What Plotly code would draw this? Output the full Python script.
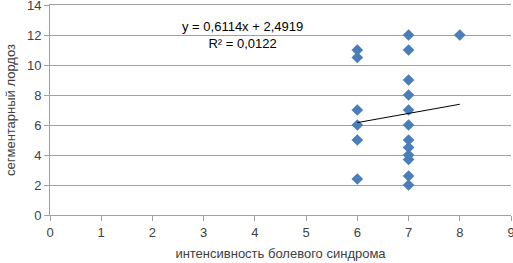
import plotly.graph_objects as go

x_vals = [6, 6, 6, 6, 6, 6, 7, 7, 7, 7, 7, 7, 7, 7, 7, 7, 7, 7, 8]
y_vals = [11, 10.5, 7, 6, 5, 2.4, 12, 11, 9, 8, 7, 6, 5, 4.5, 4, 3.7, 2.6, 2, 12]

slope = 0.6114
intercept = 2.4919
r2 = 0.0122
trend_x = [min(x_vals), max(x_vals)]
trend_y = [slope * v + intercept for v in trend_x]

x_ticks = list(range(0, 10))
y_ticks = list(range(0, 15, 2))

font = "Liberation Sans, Arial, sans-serif"

fig = go.Figure()
fig.add_trace(go.Scatter(x=x_vals, y=y_vals, mode="markers", cliponaxis=False,
                         marker=dict(symbol="diamond", size=9, color="#4a7ebb",
                                     line=dict(width=0))))
fig.add_trace(go.Scatter(x=trend_x, y=trend_y, mode="lines",
                         line=dict(color="#000000", width=1)))

fig.add_annotation(x=3.75, y=12.0, xref="x", yref="y",
                   text="y = 0,6114x + 2,4919<br>R² = 0,0122",
                   showarrow=False, font=dict(family=font, size=13, color="#000000"),
                   align="center")

fig.update_layout(
    width=513, height=263,
    margin=dict(l=50, r=2, t=5, b=48),
    paper_bgcolor="white", plot_bgcolor="white",
    showlegend=False,
    font=dict(family=font, size=13, color="#404040"),
    xaxis=dict(range=[0, 9], tickvals=x_ticks, showgrid=False, zeroline=False,
               automargin=False, mirror=True, ticklabeloverflow="allow",
               showline=True, linecolor="#a0a0a0", ticks="outside", ticklen=5,
               tickcolor="#a0a0a0",
               title=dict(text="интенсивность болевого синдрома", standoff=10,
                          font=dict(size=13, color="#404040"))),
    yaxis=dict(range=[0, 14], tickvals=y_ticks, showgrid=True, gridcolor="#a0a0a0",
               automargin=False, ticklabeloverflow="allow",
               zeroline=False, showline=True, linecolor="#a0a0a0", ticks="outside",
               ticklen=5, tickcolor="#a0a0a0",
               title=dict(text="сегментарный лордоз", standoff=8,
                          font=dict(size=13, color="#404040"))),
)

fig.write_html("out.html", config={"displayModeBar": False},
               post_script="document.body.style.margin='0';document.body.style.overflow='hidden';")
